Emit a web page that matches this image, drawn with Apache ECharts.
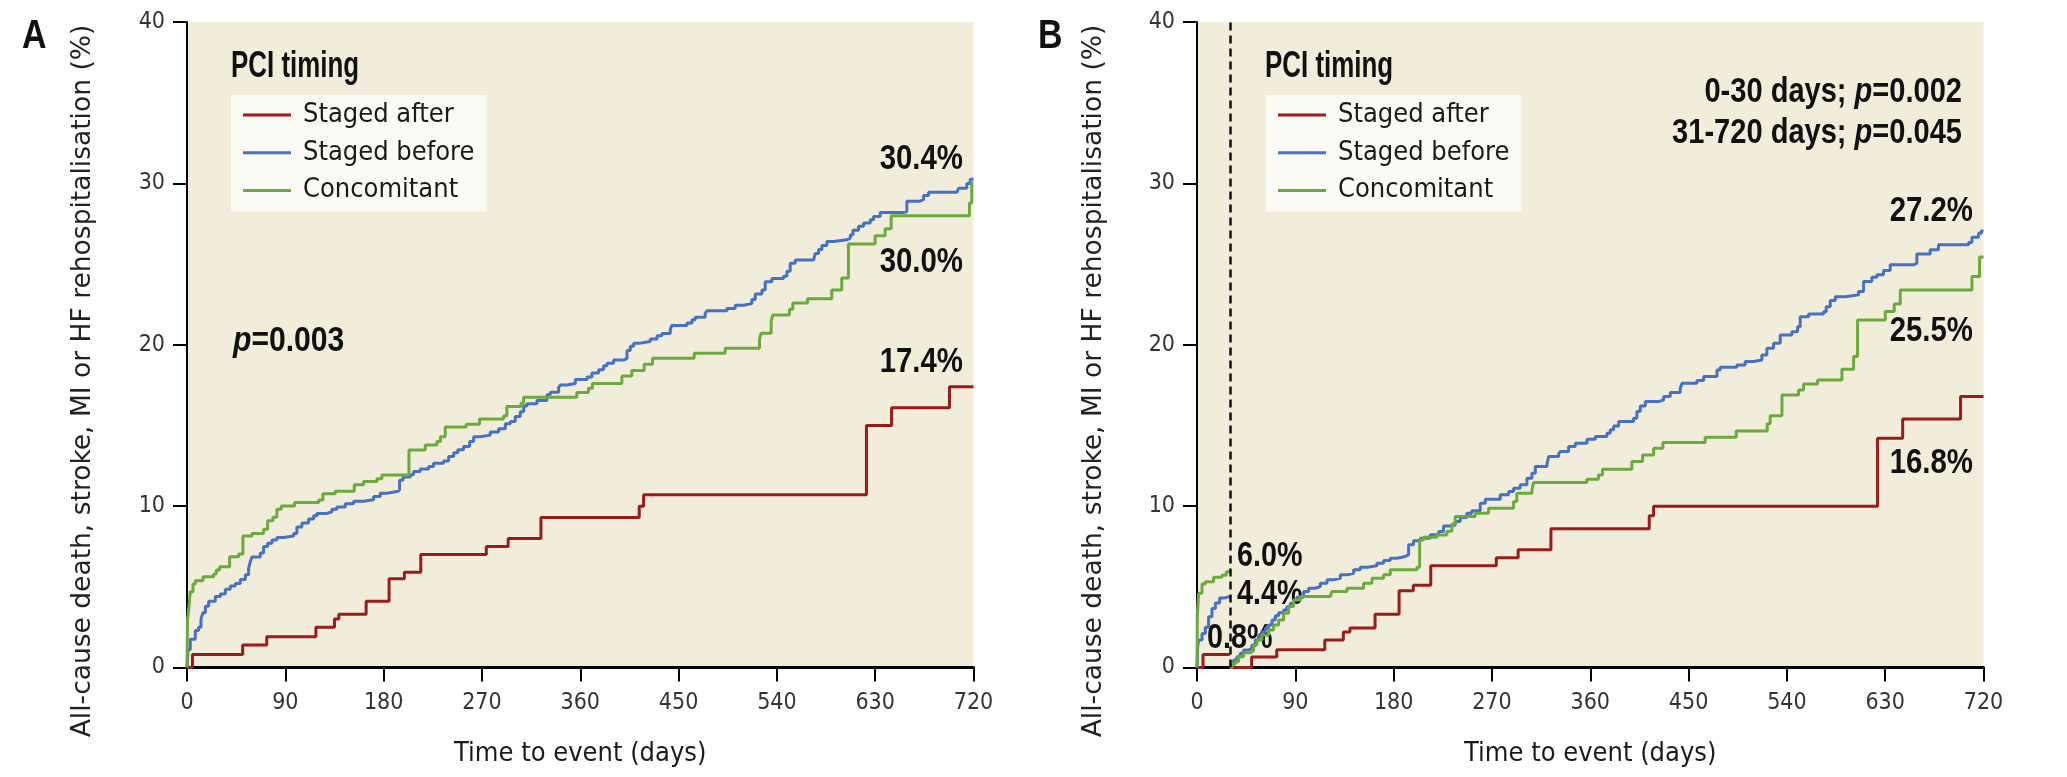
<!DOCTYPE html>
<html>
<head>
<meta charset="utf-8">
<script src="https://cdn.jsdelivr.net/npm/echarts@6/dist/echarts.min.js"></script>
<style>
html,body{margin:0;padding:0;background:#fff;}
#chart{width:2067px;height:777px;}
</style>
</head>
<body>
<div id="chart"></div>
<script>
// ---------------- DATA ----------------
const seriesNames = ['Staged after', 'Staged before', 'Concomitant'];
const xTicks = [0, 90, 180, 270, 360, 450, 540, 630, 720];
const yTicks = [0, 10, 20, 30, 40];

// Panel A: [day, cumulative %]
const A_after = [[0,0],[5,0.8],[51,1.4],[73,1.9],[118,2.5],[135,3.0],[139,3.3],[164,4.1],[185,5.5],[199,5.9],[214,7.0],[274,7.5],[294,8.0],[324,9.3],[414,10.0],[418,10.7],[622,15.0],[645,16.1],[698,17.4],[720,17.4]];
const A_before = [[0,0],[1,1.1],[3,1.75],[7.6,2.3],[10.6,2.5],[12.8,3.0],[14.6,3.4],[16.8,3.8],[19.8,4.1],[25.9,4.4],[30.5,4.55],[35.1,4.85],[39.6,5.05],[44.2,5.2],[48.8,5.45],[53.4,5.75],[56.4,6.15],[57.9,6.55],[59.5,6.85],[67.1,7.1],[70.1,7.5],[73.8,7.7],[77.8,7.9],[82.3,8.05],[88.4,8.15],[97.6,8.3],[100.6,8.7],[105.2,8.95],[111.3,9.2],[115.9,9.4],[118.9,9.55],[128.1,9.65],[132.7,9.8],[137.2,9.95],[144.9,10.15],[152.5,10.3],[161.7,10.4],[170.8,10.6],[176.9,10.8],[183,10.9],[192.2,11.0],[194.6,11.6],[197.7,11.8],[204.4,11.95],[207.4,12.15],[213.5,12.3],[221.2,12.45],[225.7,12.65],[234.9,12.8],[239.5,13.07],[244.1,13.3],[248,13.5],[253.2,13.7],[258.7,14.0],[262.4,14.3],[268.4,14.4],[277.6,14.6],[285.3,14.8],[291.4,15.1],[296,15.25],[300.5,15.55],[305.1,15.85],[308.2,16.2],[311.2,16.35],[320.4,16.55],[329.5,16.9],[332.6,17.05],[340.2,17.35],[341.7,17.5],[347.9,17.6],[355.5,17.85],[366.2,18.0],[370.7,18.25],[376.8,18.45],[381.4,18.7],[384.5,18.85],[390.6,19.05],[399.7,19.15],[402.8,19.65],[405.8,19.9],[408.9,20.1],[415,20.2],[424.1,20.35],[430.3,20.55],[434.8,20.7],[442.4,20.95],[443.9,21.2],[457.7,21.35],[462.3,21.55],[465.3,21.7],[474.4,21.95],[476,22.1],[494.3,22.25],[501.9,22.45],[509.5,22.55],[517.1,22.8],[520.2,23.15],[526.3,23.4],[529.3,23.9],[535.4,24.1],[546.1,24.25],[549.2,24.55],[552.2,25.05],[556.8,25.25],[573.6,25.35],[575.1,25.65],[578.2,25.9],[581.2,26.15],[585.8,26.4],[591.9,26.5],[604.1,26.6],[607.2,26.8],[609.6,27.1],[614.8,27.35],[619.4,27.55],[625.5,27.75],[628.5,27.95],[634.6,28.2],[656,28.25],[659,28.9],[671.2,29.0],[674.3,29.25],[678.9,29.45],[704.8,29.5],[706.3,29.7],[713.9,30.0],[717,30.25],[720,30.25]];
const A_conc = [[0,0],[0.5,3.0],[1.5,3.56],[3,4.7],[5.5,5.18],[7.6,5.38],[14.6,5.63],[24.4,5.79],[26.8,6.04],[29.9,6.25],[39,6.87],[47.3,7.03],[51.2,8.15],[59.5,8.31],[70.1,8.56],[73.8,9.1],[78.7,9.31],[82.3,9.8],[86.3,10.01],[98.5,10.22],[120.5,10.38],[124.4,10.76],[135.7,10.92],[153.1,11.32],[161.7,11.52],[173.9,11.69],[178.4,11.93],[203.2,13.48],[218.1,13.79],[228.8,14.0],[232,14.3],[236.4,14.9],[255.6,15.08],[267.8,15.4],[289.8,15.59],[292.8,16.17],[305.7,16.37],[308.1,16.75],[356.9,17.04],[367.5,17.31],[371.2,17.6],[398.1,18.07],[407.2,18.4],[418.5,18.79],[426.2,19.16],[464.3,19.47],[492.7,19.78],[524.1,20.35],[525.6,20.72],[534.8,21.48],[536.3,21.85],[551.5,22.2],[554.6,22.58],[568,22.85],[590.3,23.4],[599.4,24.13],[605.5,26.24],[629.9,26.75],[639.1,27.19],[644.6,27.99],[716.3,28.78],[718.4,30.02],[720,30.02]];

// Panel B (landmark at 30 days): early 0-30, late 31-720
const B_after_early = [[0,0],[5.5,0.8],[30,0.8]];
const B_before_early = [[0,0],[0.6,1.3],[1.5,1.7],[4.6,2.1],[7.6,2.5],[10.6,3.15],[13.7,3.65],[16.8,4.0],[20.7,4.3],[24.4,4.4],[30,4.4]];
const B_conc_early = [[0,0],[0.3,3.25],[1.5,4.6],[4.6,5.18],[7.6,5.32],[15.2,5.59],[22.9,5.72],[26.8,5.93],[29.5,6.03],[30,6.03]];
const B_after_late = [[30,0],[50,0.65],[73,1.1],[117,1.7],[134,2.2],[140,2.45],[163,3.3],[185,4.75],[198,5.1],[214,6.3],[274,6.8],[294,7.3],[324,8.6],[414,9.4],[418,10.0],[623,14.2],[646,15.4],[699,16.8],[720,16.8]];
const B_before_late = [[30,0],[31.1,0.16],[33.5,0.47],[36.6,0.67],[39.6,0.88],[42.7,1.09],[47.3,1.19],[50.3,1.4],[53.4,1.71],[56.4,2.02],[59.5,2.22],[62.5,2.43],[65.6,2.64],[68.6,2.95],[71.7,3.2],[74.7,3.4],[79.3,3.57],[82.3,3.77],[85.4,3.98],[88.4,4.19],[91.5,4.35],[97.6,4.71],[102.2,4.91],[108.3,5.02],[112.9,5.22],[119,5.43],[125.1,5.53],[131.2,5.74],[137.3,5.84],[143.4,6.05],[149.5,6.21],[155.6,6.3],[164.7,6.46],[170.8,6.63],[176.9,6.77],[183,6.88],[190.6,6.98],[193.7,7.6],[198.2,7.86],[204.4,8.01],[213.5,8.22],[221.2,8.42],[225.7,8.77],[231.8,8.83],[236.4,9.04],[240.9,9.3],[247,9.56],[251.6,9.72],[259.3,10.18],[263.9,10.43],[277.6,10.7],[285.3,10.9],[289.8,11.11],[295.9,11.32],[302,11.73],[306.6,12.04],[309.7,12.45],[320.4,12.62],[321.9,13.07],[331.1,13.24],[332.6,13.38],[340.2,13.69],[346.3,13.9],[357,14.15],[364.6,14.31],[375.3,14.52],[378.3,14.73],[381.4,14.97],[386,15.24],[399.7,15.45],[402.7,15.86],[405.8,16.21],[410.4,16.48],[422.6,16.58],[427.2,16.79],[433.3,17.04],[442.4,17.31],[444,17.62],[457.7,17.78],[463.8,18.03],[476,18.44],[479,18.61],[494.2,18.75],[501.8,18.96],[509.5,19.06],[517.1,19.37],[521.7,19.78],[527.8,20.09],[533.9,20.61],[544.6,20.81],[549.8,21.12],[552.2,21.74],[559.9,21.91],[573.6,22.05],[576,22.36],[579.7,22.74],[584.3,22.98],[593.4,23.09],[605.6,23.3],[610.2,23.92],[617.8,24.19],[622.4,24.33],[628.5,24.6],[634.6,24.95],[655.9,25.05],[659,25.63],[671.2,25.88],[678.8,26.19],[706.3,26.33],[709.4,26.66],[715.5,26.91],[718,27.05],[720,27.05]];
const B_conc_late = [[30,0],[32,0.22],[35.1,0.36],[38.1,0.67],[42.7,0.92],[48.8,1.04],[51.8,1.4],[54.9,1.71],[59.5,2.02],[65.6,2.33],[70.1,2.64],[74.7,2.95],[79.3,3.36],[83.9,3.78],[88.4,4.19],[94.6,4.4],[122,4.44],[123.5,4.71],[137.3,4.91],[152.5,5.22],[160.2,5.53],[170.8,5.74],[176.9,6.05],[201.3,6.21],[203.8,7.9],[207.4,8.07],[219.6,8.21],[228.8,8.45],[233.4,8.9],[236.4,9.35],[254.7,9.56],[266.9,9.87],[289.8,10.28],[292.8,10.8],[306.6,11.0],[308.1,11.46],[356.9,11.66],[367.5,11.93],[371.2,12.28],[398.1,12.76],[407.9,13.17],[418,13.59],[426.5,13.94],[465.2,14.27],[493.6,14.66],[522,15.1],[524.7,15.6],[535.5,16.89],[550.7,17.2],[555.3,17.57],[568.1,17.82],[590.4,18.48],[601.1,19.27],[604.7,21.54],[630.1,22.06],[638.3,22.53],[643.8,23.4],[709.4,24.23],[716.4,25.43],[720,25.43]];

const landmarkDay = 30;
const labelsA = ['30.4%', '30.0%', '17.4%'];
const labelsBlate = ['27.2%', '25.5%', '16.8%'];
const labelsBearly = ['6.0%', '4.4%', '0.8%'];
const pA = '0.003';
const pB = ['0-30 days; ', '0.002', '31-720 days; ', '0.045'];

// ---------------- STYLE ----------------
const COLORS = {'Staged after': '#9b1b1b', 'Staged before': '#4472c4', 'Concomitant': '#6aab3c'};
const BG = '#f1edda';
const FB = '"Liberation Sans", Arial, sans-serif';
const FC = '"DejaVu Sans Condensed", "DejaVu Sans", sans-serif';
const FR = '"DejaVu Sans", Verdana, sans-serif';

const gridA = {left: 187, top: 22, width: 786.5, height: 645.5};
const gridB = {left: 1197, top: 22, width: 786.5, height: 645.5};

function xAxisCfg(idx) {
  return {
    type: 'value', gridIndex: idx, min: xTicks[0], max: xTicks[xTicks.length - 1], interval: 90,
    name: 'Time to event (days)', nameLocation: 'middle', nameGap: 73,
    nameTextStyle: {fontFamily: FC, fontSize: 27, color: '#1a1a1a'},
    axisLine: {show: true, onZero: false, lineStyle: {color: '#000', width: 3}},
    axisTick: {show: true, length: 14, lineStyle: {color: '#000', width: 2}},
    axisLabel: {fontFamily: FC, fontSize: 23, color: '#333', margin: 24},
    splitLine: {show: false}
  };
}
function yAxisCfg(idx) {
  return {
    type: 'value', gridIndex: idx, min: yTicks[0], max: yTicks[yTicks.length - 1], interval: 10,
    axisLine: {show: true, onZero: false, lineStyle: {color: '#000', width: 2}},
    axisTick: {show: true, length: 14, lineStyle: {color: '#000', width: 2}},
    axisLabel: {fontFamily: FC, fontSize: 23, color: '#333', margin: 22},
    splitLine: {show: false}
  };
}
function stepSeries(name, data, idx, extra) {
  return Object.assign({
    type: 'line', name: name, data: data, step: 'end', xAxisIndex: idx, yAxisIndex: idx,
    showSymbol: false, symbol: 'none', silent: true,
    lineStyle: {color: COLORS[name], width: 3},
    itemStyle: {color: COLORS[name]}
  }, extra || {});
}
function legendCfg(left) {
  return {
    orient: 'vertical', left: left, top: 95, data: seriesNames,
    icon: 'rect', itemWidth: 48, itemHeight: 3, itemGap: 7.7,
    backgroundColor: '#faf9f3', padding: [5, 12, 6, 12],
    textStyle: {fontFamily: FC, fontSize: 27, color: '#1a1a1a', lineHeight: 30, padding: [0, 0, 0, 7]},
    selectedMode: false
  };
}
// text helper: horizontally condensed bold text (scaleX emulates a condensed face)
function txt(x, y, text, opt) {
  opt = opt || {};
  return {
    type: 'text', x: x, y: y, silent: true, rotation: opt.rotation || 0,
    scaleX: opt.sx || 1, scaleY: 1,
    style: {
      text: text, fill: opt.fill || '#111',
      font: opt.font || ('bold 35px ' + FB),
      align: opt.align || 'left', verticalAlign: 'middle',
      rich: opt.rich
    }
  };
}
const richP = {
  i: {fontFamily: FB, fontSize: 35, fontWeight: 'bold', fontStyle: 'italic', fill: '#111'},
  b: {fontFamily: FB, fontSize: 35, fontWeight: 'bold', fill: '#111'}
};
const SXN = 0.84;   // numbers
const SXT = 0.72;   // words

const yTitle = 'All-cause death, stroke, MI or HF rehospitalisation (%)';
const graphics = [
  txt(22, 37, 'A', {font: 'bold 40px ' + FB, sx: 0.85}),
  txt(1038, 37, 'B', {font: 'bold 40px ' + FB, sx: 0.85}),
  txt(83, 381, yTitle, {font: '26.5px ' + FR, align: 'center', rotation: Math.PI / 2, fill: '#222'}),
  txt(1094, 381, yTitle, {font: '26.5px ' + FR, align: 'center', rotation: Math.PI / 2, fill: '#222'}),
  txt(231, 67, 'PCI timing', {font: 'bold 36px ' + FB, sx: SXT}),
  txt(1265, 67, 'PCI timing', {font: 'bold 36px ' + FB, sx: SXT}),
  txt(233, 341, '{i|p}{b|=' + pA + '}', {rich: richP, sx: 0.86}),
  txt(1962, 92, '{b|' + pB[0] + '}{i|p}{b|=' + pB[1] + '}', {rich: richP, align: 'right', sx: 0.83}),
  txt(1962, 133, '{b|' + pB[2] + '}{i|p}{b|=' + pB[3] + '}', {rich: richP, align: 'right', sx: 0.83}),
  txt(963, 159, labelsA[0], {align: 'right', sx: SXN}),
  txt(963, 262, labelsA[1], {align: 'right', sx: SXN}),
  txt(963, 362, labelsA[2], {align: 'right', sx: SXN}),
  txt(1973, 211, labelsBlate[0], {align: 'right', sx: SXN}),
  txt(1973, 331, labelsBlate[1], {align: 'right', sx: SXN}),
  txt(1973, 463, labelsBlate[2], {align: 'right', sx: SXN}),
  txt(1237, 556, labelsBearly[0], {sx: 0.82}),
  txt(1237, 594, labelsBearly[1], {sx: 0.82}),
  txt(1207, 638, labelsBearly[2], {sx: 0.82})
];

const option = {
  animation: false,
  backgroundColor: '#ffffff',
  grid: [
    Object.assign({show: true, backgroundColor: BG, borderWidth: 0}, gridA),
    Object.assign({show: true, backgroundColor: BG, borderWidth: 0}, gridB)
  ],
  xAxis: [xAxisCfg(0), xAxisCfg(1)],
  yAxis: [yAxisCfg(0), yAxisCfg(1)],
  legend: [legendCfg(231), legendCfg(1266)],
  series: [
    stepSeries('Staged after', A_after, 0),
    stepSeries('Staged before', A_before, 0),
    stepSeries('Concomitant', A_conc, 0),
    stepSeries('Staged after', B_after_early, 1, {
      markLine: {
        silent: true, symbol: ['none', 'none'], label: {show: false},
        lineStyle: {color: '#111', type: [8, 5], width: 2.5},
        data: [{xAxis: landmarkDay}]
      }
    }),
    stepSeries('Staged before', B_before_early, 1),
    stepSeries('Concomitant', B_conc_early, 1),
    stepSeries('Staged after', B_after_late, 1),
    stepSeries('Staged before', B_before_late, 1),
    stepSeries('Concomitant', B_conc_late, 1)
  ],
  graphic: graphics
};

const chart = echarts.init(document.getElementById('chart'), null, {renderer: 'canvas'});
chart.setOption(option);
</script>
</body>
</html>
